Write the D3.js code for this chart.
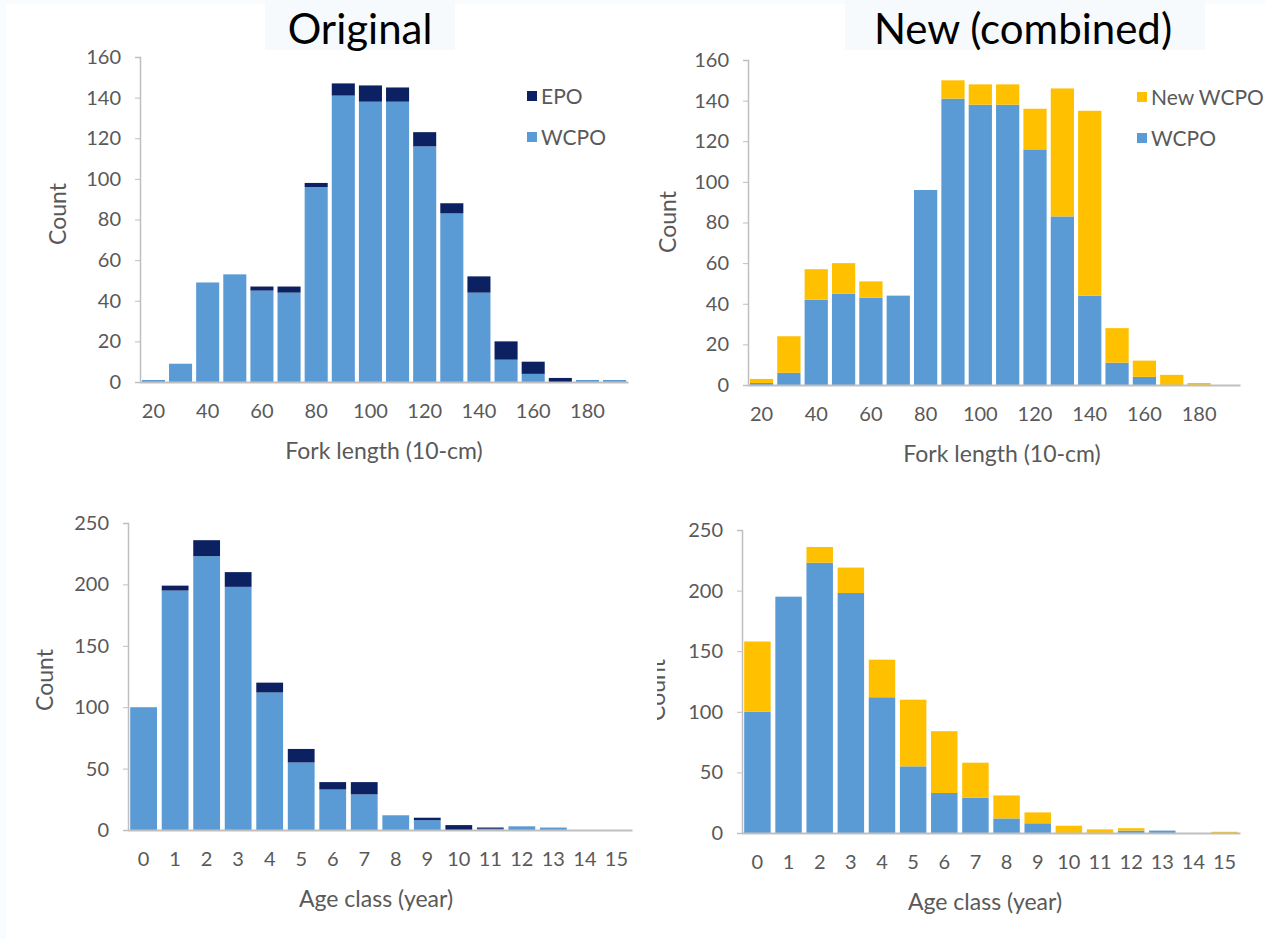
<!DOCTYPE html>
<html>
<head>
<meta charset="utf-8">
<script src="https://cdn.jsdelivr.net/npm/d3@7"></script>
<style>
  body { margin: 0; background: #f9fcfe; }
  svg { display: block; }
  .tick text { font-family: Lato, "Open Sans", sans-serif; fill: #595959; }
</style>
</head>
<body>
<svg id="chart" width="1265" height="939"></svg>
<script>
// categories
var forkCats = [20, 30, 40, 50, 60, 70, 80, 90, 100, 110, 120, 130, 140, 150, 160, 170, 180, 190];
var ageCats = [0, 1, 2, 3, 4, 5, 6, 7, 8, 9, 10, 11, 12, 13, 14, 15];

// original (fork length)
var forkOrigWCPO = [1, 9, 49, 53, 45, 44, 96, 141, 138, 138, 116, 83, 44, 11, 4, 0, 1, 1];
var forkOrigEPO  = [0, 0, 0, 0, 2, 3, 2, 6, 8, 7, 7, 5, 8, 9, 6, 2, 0, 0];
// new combined (fork length)
var forkNewWCPO  = [1, 6, 42, 45, 43, 44, 96, 141, 138, 138, 116, 83, 44, 11, 4, 0, 0, 0];
var forkNewAdded = [2, 18, 15, 15, 8, 0, 0, 9, 10, 10, 20, 63, 91, 17, 8, 5, 1, 0];
// original (age)
var ageOrigWCPO = [100, 195, 223, 198, 112, 55, 33, 29, 12, 8, 0, 1, 3, 2, 0, 0];
var ageOrigEPO  = [0, 4, 13, 12, 8, 11, 6, 10, 0, 2, 4, 1, 0, 0, 0, 0];
// new combined (age)
var ageNewWCPO  = [100, 195, 223, 198, 112, 55, 33, 29, 12, 8, 0, 0, 2, 2, 0, 0];
var ageNewAdded = [58, 0, 13, 21, 31, 55, 51, 29, 19, 9, 6, 3, 2, 0, 0, 1];

var forkTicks = [0, 20, 40, 60, 80, 100, 120, 140, 160];
var ageTicks = [0, 50, 100, 150, 200, 250];

var blue = '#5b9bd5', navy = '#0c2161', gold = '#ffc000';
var font = 'Lato, "Open Sans", sans-serif';
var svg = d3.select('#chart');

svg.append('rect').attr('x', 6).attr('y', 4).attr('width', 1259).attr('height', 935).attr('fill', '#fff');

// titles with their pale boxes
[['Original', 265, 455, 360], ['New (combined)', 845, 1205, 1023]].forEach(function(t) {
    svg.append('rect').attr('x', t[1]).attr('y', 0).attr('width', t[2] - t[1]).attr('height', 50)
        .attr('fill', '#f6fafd');
    svg.append('text').attr('x', t[3]).attr('y', 44).attr('text-anchor', 'middle')
        .style('font-family', font).style('font-size', '42px').attr('fill', '#000').text(t[0]);
});

function panel(o) {
    var g = svg.append('g');
    var x = d3.scaleBand().domain(o.cats).range([o.x0, o.x1]).paddingInner(0.15).paddingOuter(0.07);
    var y = d3.scaleLinear().domain([0, o.max]).range([o.yb, o.yt]);

    var rows = o.cats.map(function(c, i) { return { cat: c, a: o.lower[i], b: o.upper[i] }; });
    var stack = d3.stack().keys(['a', 'b'])(rows);
    var colors = [blue, o.topColor];
    stack.forEach(function(layer, k) {
        g.selectAll(null).data(layer).enter().append('rect')
            .attr('x', function(d) { return x(d.data.cat); })
            .attr('width', x.bandwidth())
            .attr('y', function(d) { return y(d[1]); })
            .attr('height', function(d) { return y(d[0]) - y(d[1]); })
            .attr('fill', colors[k]);
    });

    // y axis
    var ya = g.append('g').attr('transform', 'translate(' + o.x0 + ',0)')
        .call(d3.axisLeft(y).tickValues(o.ticks).tickSize(5).tickPadding(14));
    ya.select('.domain').attr('stroke', '#bfbfbf').attr('stroke-width', 1.5);
    ya.selectAll('.tick line').attr('stroke', '#bfbfbf');
    ya.selectAll('.tick text').style('font-size', '20px');

    // x axis (no ticks)
    var xa = g.append('g').attr('transform', 'translate(0,' + o.yb + ')')
        .call(d3.axisBottom(x).tickSize(0).tickPadding(22)
            .tickValues(o.cats.filter(function(c, i) { return o.every === 1 || i % 2 === 0; }))
            .tickSizeOuter(0));
    xa.select('.domain').attr('stroke', '#bfbfbf').attr('stroke-width', 2);
    xa.selectAll('.tick text').style('font-size', '20px');

    g.append('text').attr('x', o.xtX).attr('y', o.yb + 77).attr('text-anchor', 'middle')
        .style('font-family', font).style('font-size', '23px').attr('fill', '#595959').text(o.xTitle);

    var lg = g.append('g');
    if (o.clipLeft) {
        var id = 'clip' + o.x0;
        svg.append('clipPath').attr('id', id).append('rect')
            .attr('x', o.clipLeft).attr('y', 0).attr('width', 100).attr('height', 939);
        lg.attr('clip-path', 'url(#' + id + ')');
    }
    lg.append('text').attr('transform', 'translate(' + o.ytX + ',' + o.ytY + ') rotate(-90)')
        .attr('text-anchor', 'middle')
        .style('font-family', font).style('font-size', '23px').attr('fill', '#595959').text('Count');

    if (o.legend) {
        o.legend.forEach(function(l, i) {
            g.append('rect').attr('x', o.lx).attr('y', o.ly + i * 41 - 5).attr('width', 10).attr('height', 10)
                .attr('fill', l[1]);
            g.append('text').attr('x', o.lx + 14).attr('y', o.ly + i * 41 + 8)
                .style('font-family', font).style('font-size', '21px').attr('fill', '#595959').text(l[0]);
        });
    }
}

panel({ cats: forkCats, lower: forkOrigWCPO, upper: forkOrigEPO, topColor: navy, max: 160, ticks: forkTicks,
        x0: 140, x1: 628, yb: 382, yt: 57, every: 2, xTitle: 'Fork length (10-cm)', xtX: 384,
        ytX: 66, ytY: 214, legend: [['EPO', navy], ['WCPO', blue]], lx: 527, ly: 96 });
panel({ cats: forkCats, lower: forkNewWCPO, upper: forkNewAdded, topColor: gold, max: 160, ticks: forkTicks,
        x0: 748, x1: 1240, yb: 385, yt: 60, every: 2, xTitle: 'Fork length (10-cm)', xtX: 1002,
        ytX: 676, ytY: 222, legend: [['New WCPO', gold], ['WCPO', blue]], lx: 1137, ly: 97 });
panel({ cats: ageCats, lower: ageOrigWCPO, upper: ageOrigEPO, topColor: navy, max: 250, ticks: ageTicks,
        x0: 128, x1: 632, yb: 830, yt: 523, every: 1, xTitle: 'Age class (year)', xtX: 376,
        ytX: 53, ytY: 680 });
panel({ cats: ageCats, lower: ageNewWCPO, upper: ageNewAdded, topColor: gold, max: 250, ticks: ageTicks,
        x0: 742, x1: 1240, yb: 833, yt: 530, every: 1, xTitle: 'Age class (year)', xtX: 985,
        ytX: 665, ytY: 690, clipLeft: 657 });
</script>
</body>
</html>
